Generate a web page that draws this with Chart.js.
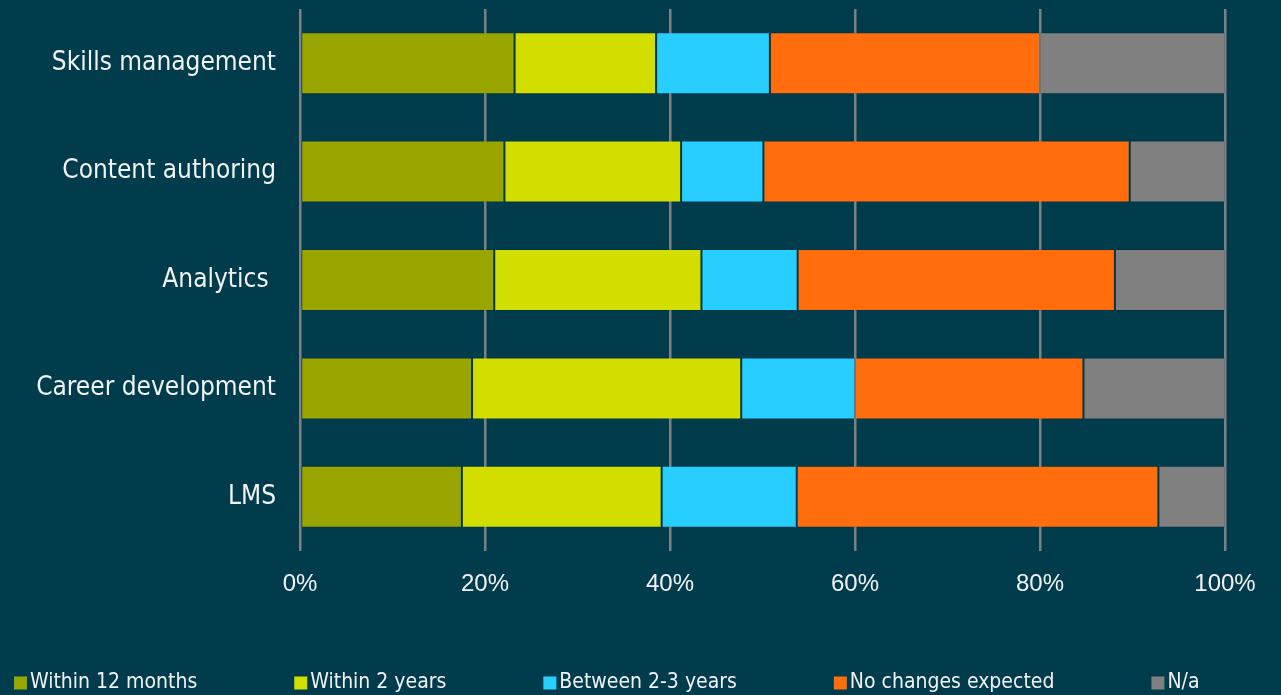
<!DOCTYPE html>
<html>
<head>
<meta charset="utf-8">
<title>Expected changes by area</title>
<script src="https://cdn.jsdelivr.net/npm/chart.js@4.4.1/dist/chart.umd.min.js"></script>
<style>
  html, body { margin: 0; padding: 0; background: #003c4c; }
  #wrap { width: 1281px; height: 695px; }
</style>
</head>
<body>
<div id="wrap"><canvas id="myChart" width="1281" height="695"></canvas></div>
<script>
const categories = ['Skills management', 'Content authoring', 'Analytics ', 'Career development', 'LMS'];

// share of respondents per area, in percent
const within12Months = [23.2, 22.1, 21.0, 18.6, 17.5];
const within2Years = [15.3, 19.1, 22.4, 29.1, 21.6];
const between2And3Years = [12.3, 8.9, 10.4, 12.3, 14.6];
const noChangesExpected = [29.2, 39.6, 34.3, 24.7, 39.1];
const notApplicable = [20.0, 10.3, 11.9, 15.3, 7.2];

const seriesNames = ['Within 12 months', 'Within 2 years', 'Between 2-3 years', 'No changes expected', 'N/a'];
const seriesColors = ['#9aa600', '#d2de00', '#27ceff', '#ff6d0d', '#808080'];
const tickValues = [0, 20, 40, 60, 80, 100];

const bg = '#003c4c';
const textColor = '#f2f2f2';
const labelFont = '"DejaVu Sans Condensed", "DejaVu Sans", sans-serif';

// paint the page colour behind everything
const background = {
    id: 'background',
    beforeDraw(chart) {
        const ctx = chart.ctx;
        ctx.save();
        ctx.fillStyle = bg;
        ctx.fillRect(0, 0, chart.width, chart.height);
        ctx.restore();
    }
};

// legend row along the bottom edge, small squares close to the text
const bottomLegend = {
    id: 'bottomLegend',
    afterDraw(chart) {
        const ctx = chart.ctx;
        ctx.save();
        ctx.font = '21px ' + labelFont;
        ctx.textBaseline = 'middle';
        let x = 14;
        const y = 683;
        chart.data.datasets.forEach(ds => {
            ctx.fillStyle = ds.backgroundColor;
            ctx.fillRect(x, y - 6.5, 13, 13);
            ctx.fillStyle = textColor;
            ctx.fillText(ds.label, x + 16, y);
            x += 16 + ctx.measureText(ds.label).width + 97;
        });
        ctx.restore();
    }
};

const series = [within12Months, within2Years, between2And3Years, noChangesExpected, notApplicable];

let myChart = document.getElementById('myChart').getContext('2d');

let stackedChart = new Chart(myChart, {
    type: 'bar',
    data: {
        labels: categories,
        datasets: series.map((values, i) => ({
            label: seriesNames[i],
            data: values,
            backgroundColor: seriesColors[i],
            borderColor: 'rgba(0,0,0,0.1)',
            borderWidth: 1,
            borderSkipped: false,
            categoryPercentage: 1,
            barPercentage: 0.572
        }))
    },
    options: {
        indexAxis: 'y',
        responsive: false,
        animation: false,
        layout: {
            padding: { top: 9, right: 56, bottom: 84, left: 0 }
        },
        plugins: {
            legend: { display: false },
            tooltip: { enabled: false }
        },
        scales: {
            x: {
                stacked: true,
                min: 0,
                max: 100,
                afterBuildTicks: scale => {
                    scale.ticks = tickValues.map(v => ({ value: v }));
                },
                afterFit: scale => { scale.height = 60; },
                grid: {
                    color: '#808080',
                    lineWidth: 2.5,
                    drawTicks: false
                },
                border: { display: false },
                ticks: {
                    color: textColor,
                    padding: 19,
                    font: { family: '"Liberation Sans Narrow", "Liberation Sans", sans-serif', size: 24 },
                    callback: v => v + '%'
                }
            },
            y: {
                stacked: true,
                // fixed label column; no extra room above/below for the labels
                afterFit: scale => {
                    scale.width = 300;
                    scale.paddingTop = 0;
                    scale.paddingBottom = 0;
                },
                grid: { display: false, drawTicks: false },
                border: { display: false },
                ticks: {
                    color: textColor,
                    padding: 24,
                    font: { family: labelFont, size: 26 }
                }
            }
        }
    },
    plugins: [background, bottomLegend]
});
</script>
</body>
</html>
